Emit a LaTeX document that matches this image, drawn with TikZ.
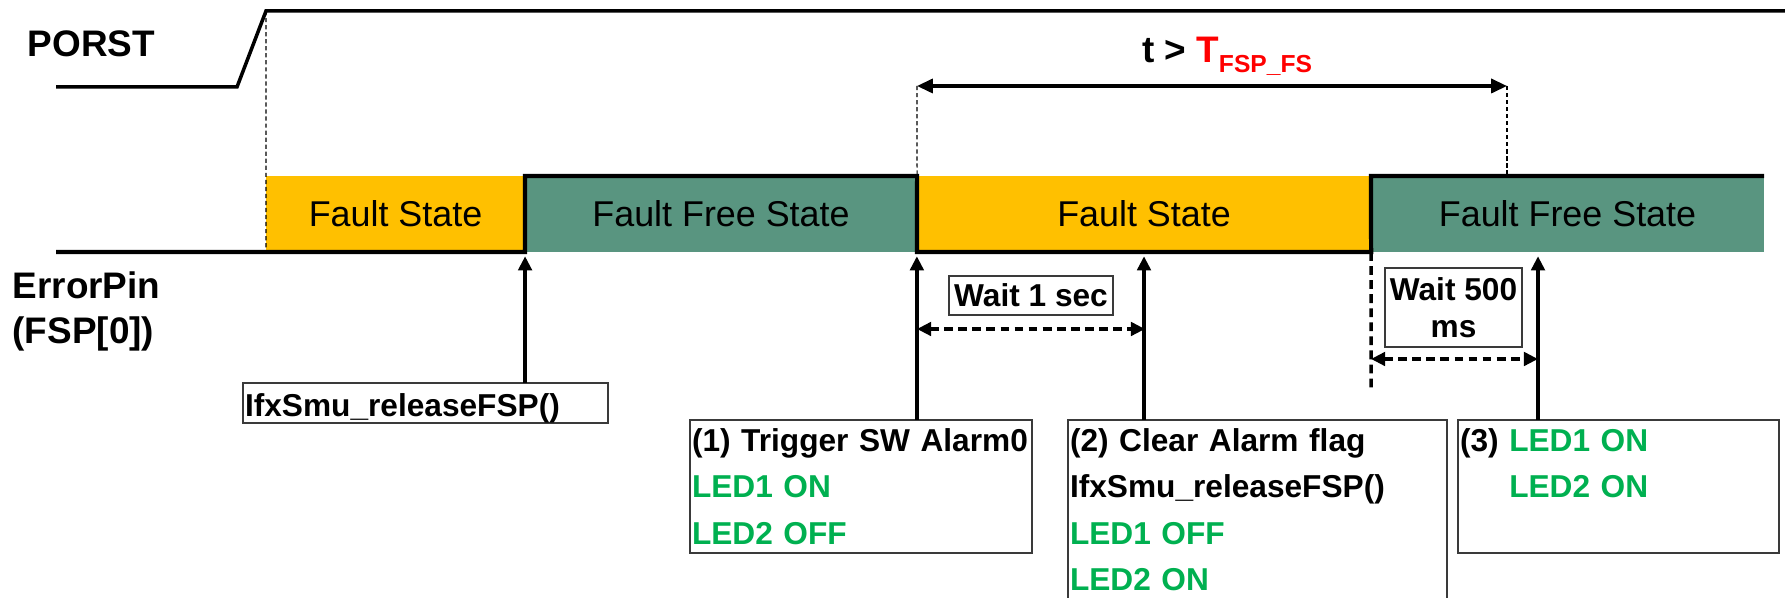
\documentclass[tikz,border=0pt]{standalone}
\usepackage{fontspec}
\setmainfont{Liberation Sans}
\usetikzlibrary{arrows.meta,positioning,calc}
\definecolor{faultyel}{HTML}{FFC000}
\definecolor{freegreen}{HTML}{599580}
\definecolor{ledgreen}{HTML}{00B050}
\definecolor{boxgray}{HTML}{3A3A3A}

\begin{document}
\begin{tikzpicture}[x=0.01cm, y=-0.01cm,
    sig/.style={line width=1.2pt, line join=miter},
    guide/.style={dash pattern=on 1.2pt off 0.8pt, line width=0.35pt},
    state/.style={minimum height=0.76cm, inner sep=0pt, outer sep=0pt, font=\fontsize{10.2}{12}\selectfont},
    infobox/.style={draw=boxgray, line width=0.6pt, inner xsep=0.02cm, inner ysep=0.09cm, outer sep=0pt, align=left, anchor=north west, font=\fontsize{9}{13.1}\selectfont\bfseries},
    waitbox/.style={draw=boxgray, line width=0.5pt, inner sep=0.02cm, align=center, font=\fontsize{9}{10.5}\selectfont\bfseries},
    arr/.style={-{Triangle[length=4pt, width=3.8pt]}, line width=1pt, shorten >=1.2pt},
    dimarr/.style={{Triangle[length=4.5pt, width=4pt]}-{Triangle[length=4.5pt, width=4pt]}, line width=0.9pt},
    waitarr/.style={{Triangle[length=4pt, width=3.8pt]}-{Triangle[length=4pt, width=3.8pt]}, line width=1pt, dash pattern=on 2.5pt off 1.5pt},
    dashline/.style={line width=1pt, dash pattern=on 2.5pt off 1.5pt}
]
\useasboundingbox (0,0) rectangle (1785,598);

% signal names
\node[anchor=base west, inner sep=0pt, font=\fontsize{10.5}{12}\selectfont\bfseries] (porst) at (27,57) {PORST};
\node[anchor=north west, inner sep=0pt, align=left, font=\fontsize{10.5}{12.8}\selectfont\bfseries] (errpin) at (12,271) {ErrorPin\\(FSP[0])};

% states of the error pin
\node[state, fill=faultyel, minimum width=2.59cm] (fs1) at (395.5,214) {Fault State};
\node[state, fill=freegreen, minimum width=3.92cm] (ff1) at (721,214) {Fault Free State};
\node[state, fill=faultyel, minimum width=4.54cm] (fs2) at (1144,214) {Fault State};
\node[state, fill=freegreen, minimum width=3.93cm] (ff2) at (1567.5,214) {Fault Free State};

% PORST waveform
\coordinate (plow) at (56,87);
\coordinate (prise) at (237,87);
\coordinate (phigh) at (266,11);
\coordinate (pend) at (1785,11);
\draw[sig, line width=1pt] (plow) -- (prise) -- (phigh) -- (pend);
\draw[guide] (phigh) -- (fs1.south west);

% ErrorPin waveform
\coordinate (errlow) at (56,252);
\draw[sig] (errlow) -- (fs1.south east) -- (ff1.north west) -- (ff1.north east)
    -- (fs2.south west) -- (fs2.south east) -- (ff2.north west) -- (ff2.north east);

% t > T_FSP_FS
\coordinate (tl) at (917,86);
\coordinate (tr) at (1507,86);
\draw[guide] (tl) -- (ff1.north east);
\draw[guide] (tr) -- (tr |- ff2.north);
\draw[dimarr] (tl) -- (tr);
\node[anchor=base, inner sep=0pt, font=\fontsize{10.5}{12}\selectfont\bfseries] (tlabel) at (1227,63)
    {t > \textcolor{red}{T\raisebox{-2.6pt}{\fontsize{7}{8}\selectfont FSP\_FS}}};

% software actions
\node[infobox, text width=3.61cm, inner ysep=0.05cm, text height=0.28cm, text depth=0.02cm] (rel1) at (243,383) {IfxSmu\_releaseFSP()};
\node[infobox, text width=3.38cm] (alarm) at (690,420)
    {(1) Trigger SW Alarm0\\\textcolor{ledgreen}{LED1 ON}\\\textcolor{ledgreen}{LED2 OFF}};
\node[infobox, text width=3.75cm, text depth=1.6cm] (clear) at (1068,420)
    {(2) Clear Alarm flag\\IfxSmu\_releaseFSP()\\\textcolor{ledgreen}{LED1 OFF}\\\textcolor{ledgreen}{LED2 ON}};
\node[infobox, text width=3.17cm, text depth=0.92cm] (leds) at (1458,420)
    {(3) \textcolor{ledgreen}{LED1 ON}\\\phantom{(3)} \textcolor{ledgreen}{LED2 ON}};

\coordinate (ledpt) at (1538,252);
\draw[arr] (rel1.north -| fs1.south east) -- (fs1.south east);
\draw[arr] (alarm.north -| fs2.south west) -- (fs2.south west);
\draw[arr] (clear.north -| fs2.south) -- (fs2.south);
\draw[arr] (leds.north -| ledpt) -- (ledpt);

% waiting times
\node[waitbox, minimum width=1.64cm, minimum height=0.39cm] (wait1) at (1031,295.5) {Wait 1 sec};
\coordinate (w1a) at (917,329);
\coordinate (w1b) at (1145,329);
\draw[waitarr] (w1a) -- (w1b);

\node[waitbox, minimum width=1.37cm, minimum height=0.79cm] (wait2) at (1453.5,307.5) {Wait 500\\ms};
\coordinate (w2bot) at (1371,388);
\draw[dashline] (fs2.south east) -- (w2bot);
\coordinate (w2a) at (1371,359);
\draw[waitarr] (w2a) -- (w2a -| ledpt);
\end{tikzpicture}
\end{document}
